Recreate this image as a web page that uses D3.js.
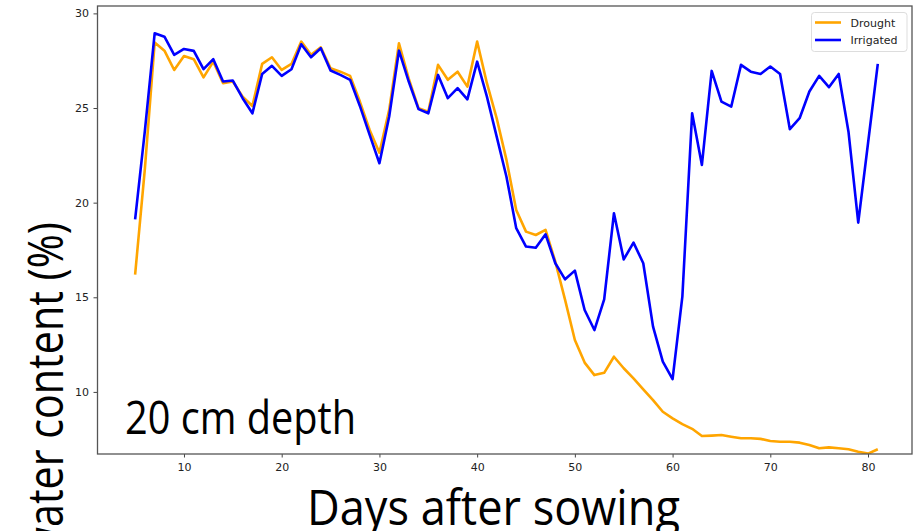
<!DOCTYPE html>
<html><head><meta charset="utf-8">
<script src="https://cdn.jsdelivr.net/npm/d3@7"></script>
<style>html,body{margin:0;padding:0;background:#fff;overflow:hidden}</style>
</head><body>
<svg id="chart" width="921" height="531"></svg>
<script>
const days = d3.range(5, 82);
const drought = [16.2,21.8,28.46,28.03,27.01,27.75,27.58,26.62,27.45,26.31,26.4,25.6,25.11,27.33,27.68,27.01,27.33,28.51,27.81,28.21,27.1,26.92,26.7,25.34,23.84,22.64,24.9,28.42,26.55,24.99,24.8,27.28,26.49,26.92,26.13,28.51,26.31,24.46,22.26,19.61,18.47,18.29,18.56,16.88,14.86,12.74,11.55,10.89,11.01,11.86,11.25,10.72,10.14,9.57,8.95,8.6,8.3,8.05,7.67,7.69,7.72,7.63,7.55,7.55,7.52,7.41,7.37,7.37,7.32,7.19,7.02,7.07,7.02,6.97,6.84,6.74,6.97];
const irrigated = [19.12,23.8,28.95,28.77,27.81,28.12,28.02,27.05,27.58,26.4,26.45,25.52,24.72,26.8,27.23,26.7,27.05,28.37,27.68,28.16,26.98,26.75,26.49,25.11,23.58,22.08,24.55,28.03,26.4,24.94,24.72,26.75,25.52,26.05,25.46,27.45,25.6,23.49,21.37,18.65,17.68,17.62,18.33,16.8,15.95,16.41,14.33,13.27,14.89,19.44,17.0,17.89,16.8,13.45,11.6,10.68,15.03,24.72,21.99,26.96,25.34,25.07,27.28,26.92,26.8,27.19,26.8,23.88,24.46,25.87,26.7,26.1,26.8,23.75,18.94,23.14,27.33];
const seriesNames = ["Drought", "Irrigated"];
const seriesColors = ["#FFA500", "#0000FF"];
const xTicks = [10,20,30,40,50,60,70,80];
const yTicks = [10,15,20,25,30];

const svg = d3.select("#chart");
const L = 97.5, R = 912, T = 6, B = 454;
const x = d3.scaleLinear().domain([1.15, 84.5]).range([L, R]);
const y = d3.scaleLinear().domain([6.72, 30.39]).range([B, T]);

svg.append("defs").append("clipPath").attr("id","clip")
  .append("rect").attr("x",L).attr("y",T).attr("width",R-L).attr("height",B-T);

const line = d3.line().x((d,i)=>x(days[i])).y(d=>y(d));
const g = svg.append("g").attr("clip-path","url(#clip)");
[drought, irrigated].forEach((s,k)=>{
  g.append("path").datum(s).attr("d", line)
    .attr("fill","none").attr("stroke", seriesColors[k])
    .attr("stroke-width", 2.6).attr("stroke-linejoin","round");
});

// axes
const xAxis = svg.append("g").attr("transform",`translate(0,${B})`)
  .call(d3.axisBottom(x).tickValues(xTicks).tickSize(3.5).tickPadding(6));
const yAxis = svg.append("g").attr("transform",`translate(${L},0)`)
  .call(d3.axisLeft(y).tickValues(yTicks).tickSize(4).tickPadding(4.5));
[xAxis,yAxis].forEach(a=>{
  a.select(".domain").remove();
  a.selectAll(".tick line").attr("stroke","#444").attr("stroke-width",1);
  a.selectAll(".tick text").attr("fill","#222").style("font-family","DejaVu Sans").style("font-size","11px");
});

// frame
svg.append("rect").attr("x",L).attr("y",T).attr("width",R-L).attr("height",B-T)
  .attr("fill","none").attr("stroke","#555").attr("stroke-width",1.3);

// legend
const lg = svg.append("g");
lg.append("rect").attr("x",811.5).attr("y",12.5).attr("width",95.5).attr("height",39)
  .attr("rx",3).attr("fill","#fff").attr("stroke","#ddd").attr("stroke-width",1);
seriesNames.forEach((n,k)=>{
  const yy = 22.5 + k*17.5;
  lg.append("line").attr("x1",815).attr("x2",841).attr("y1",yy).attr("y2",yy)
    .attr("stroke",seriesColors[k]).attr("stroke-width",2.6);
  lg.append("text").attr("x",850.5).attr("y",yy+4).text(n)
    .style("font-family","DejaVu Sans").style("font-size","11px").attr("fill","#222");
});

// big labels (narrow face emulated by fitting width)
function bigText(str, size) {
  return svg.append("text").style("font-family","Open Sans").style("font-size",size+"px")
    .attr("fill","#000").text(str);
}
const xl = bigText("Days after sowing", 50).attr("x",307).attr("y",525);
xl.attr("textLength", 373).attr("lengthAdjust","spacingAndGlyphs");

const dl = bigText("20 cm depth", 45).attr("x",125).attr("y",433.5);
dl.attr("textLength", 231).attr("lengthAdjust","spacingAndGlyphs");

const yl = bigText("water content (%)", 49);
const tmp = bigText("ater content (%)", 49);
const k = 305 / tmp.node().getComputedTextLength();
const full = yl.node().getComputedTextLength() * k;
tmp.remove();
yl.attr("transform","translate(63,222) rotate(-90)").attr("text-anchor","end")
  .attr("textLength", full).attr("lengthAdjust","spacingAndGlyphs");
</script>
</body></html>
